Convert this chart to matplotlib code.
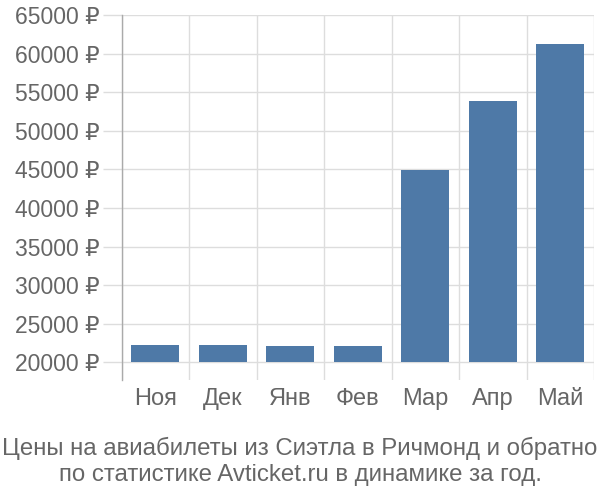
import matplotlib
matplotlib.use("Agg")
import matplotlib.pyplot as plt
import numpy as np

months = ["Ноя", "Дек", "Янв", "Фев", "Мар", "Апр", "Май"]
prices = [22300, 22300, 22100, 22100, 44900, 53900, 61200]
yticks = [20000, 25000, 30000, 35000, 40000, 45000, 50000, 55000, 60000, 65000]
title = "Цены на авиабилеты из Сиэтла в Ричмонд и обратно\nпо статистике Avticket.ru в динамике за год."

plt.rcParams['font.family'] = ['Liberation Sans', 'DejaVu Sans']

fig = plt.figure(figsize=(6, 5), dpi=100)
ax = fig.add_axes([0.2025, 0.24, 0.7875, 0.73])

x = np.arange(len(months))
base = 20000
ax.bar(x, [p - base for p in prices], bottom=base, width=0.71, color="#4e79a7", zorder=3)

ax.set_xlim(-0.5, len(months) - 0.5)
ax.set_ylim(17700, 65000)
ax.set_yticks(yticks)
ax.set_yticklabels([f"{v} ₽" for v in yticks])
ax.set_xticks(x)
ax.set_xticklabels(months)
ax.set_xticks(np.arange(len(months) + 1) - 0.5, minor=True)

ax.grid(axis='y', which='major', color="#dddddd", linewidth=1, zorder=0)
ax.grid(axis='x', which='minor', color="#dddddd", linewidth=1, zorder=0)
ax.grid(axis='x', which='major', visible=False)

for s in ['top', 'right', 'bottom']:
    ax.spines[s].set_visible(False)
ax.spines['left'].set_color("#aaaaaa")
ax.spines['left'].set_linewidth(1)

ax.tick_params(axis='y', which='major', length=14, color="#dddddd", width=1,
               labelsize=16.5, labelcolor="#666666", pad=2)
ax.tick_params(axis='x', which='major', length=0, labelsize=17, labelcolor="#666666", pad=6)
ax.tick_params(axis='x', which='minor', length=0)

fig.text(0.5, 0.077, title, ha='center', va='center', fontsize=17.3, color="#666666",
         linespacing=1.28)

fig.savefig("out.png", dpi=100)
